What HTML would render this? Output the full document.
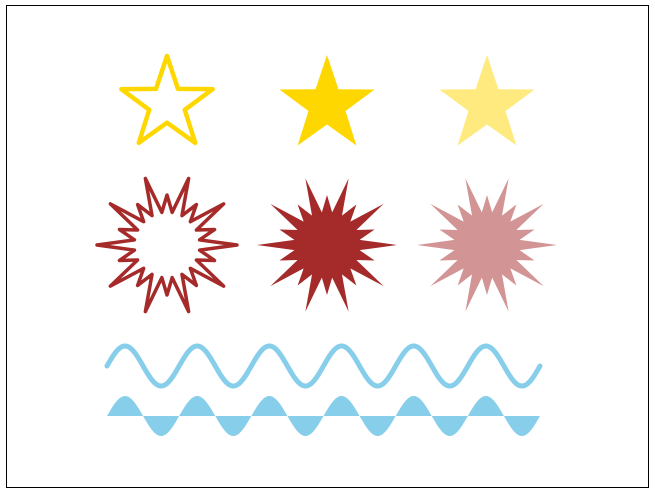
<!DOCTYPE html>
<html><head><meta charset="utf-8"><style>
html,body{margin:0;padding:0;background:#fff;}
svg{display:block;}
</style></head><body>
<svg id="c" width="655" height="495">
<rect x="6.5" y="5.5" width="642" height="482" fill="#fff" stroke="#000" stroke-width="1"/>
</svg>
<script>
const starCenters = [167, 327, 487];
const starStyles = ['outline', 'solid', 'light'];
const burstCenters = [167, 327, 487];
const waveCycles = 6;
const svg = document.getElementById('c');
const NS = 'http://www.w3.org/2000/svg';
function mk(tag, attrs){const e=document.createElementNS(NS,tag);for(const k in attrs)e.setAttribute(k,attrs[k]);svg.appendChild(e);return e;}
function starPts(cx,cy,R,r,n){let p=[];for(let i=0;i<2*n;i++){const a=-Math.PI/2+i*Math.PI/n;const rr=i%2?r:R;p.push((cx+rr*Math.cos(a)).toFixed(2)+','+(cy+rr*Math.sin(a)).toFixed(2));}return p.join(' ');}
function burstPts(cx,cy){let p=[];const n=20;for(let i=0;i<n;i++){const a=i*2*Math.PI/n;const R=i%2?50:70;p.push([cx+R*Math.cos(a),cy-R*Math.sin(a)]);const b=a+Math.PI/n;p.push([cx+33*Math.cos(b),cy-33*Math.sin(b)]);}return p.map(q=>q[0].toFixed(2)+','+q[1].toFixed(2)).join(' ');}
starCenters.forEach((cx,i)=>{
  const s=starStyles[i];
  const o=s==='outline';
  const el=mk('polygon',{points:starPts(cx,o?104:105,o?48:50,o?18.7:19.5,5),
    fill:o?'none':(s==='solid'?'#FFD700':'#FFEA80'),
    stroke:o?'#FFD700':'none','stroke-width':4.5,'stroke-linejoin':'round'});
  
  
});
burstCenters.forEach((cx,i)=>{
  const el=mk('polygon',{points:burstPts(cx,245),
    fill:i===0?'none':(i===1?'#A52A2A':'#D29494'),
    stroke:i===0?'#A52A2A':'none','stroke-width':3.5,'stroke-linejoin':'round'});
  
  
});
const x0=107,x1=540,per=(x1-x0)/waveCycles,amp=20;
let d='';for(let x=x0;x<=x1;x+=1){d+=(x===x0?'M':'L')+x+','+(366-amp*Math.sin((x-x0)/per*2*Math.PI)).toFixed(2);}
const w=mk('path',{d:d,fill:'none',stroke:'#87CEEB','stroke-width':5,'stroke-linecap':'round'});


let f='M'+x0+',416';for(let x=x0;x<=x1;x+=1){f+='L'+x+','+(416-amp*Math.sin((x-x0)/per*2*Math.PI)).toFixed(2);}f+='L'+x1+',416Z';
const fw=mk('path',{d:f,fill:'#87CEEB',stroke:'none'});


</script>
</body></html>
